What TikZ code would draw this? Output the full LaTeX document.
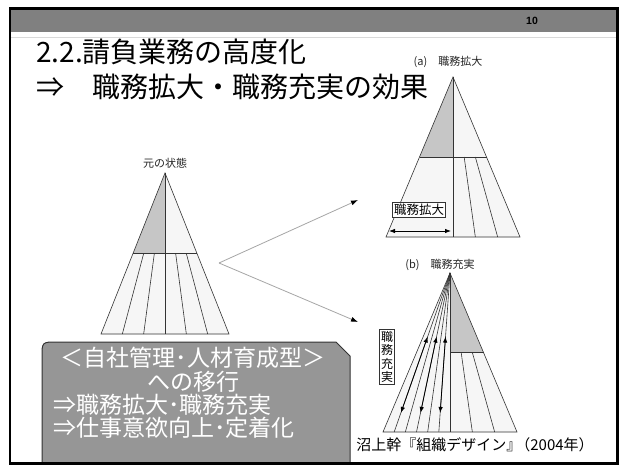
\documentclass[tikz,border=0pt]{standalone}
\usepackage{fontspec}
\setmainfont{Noto Sans CJK JP}
\newfontfamily\numfont{Liberation Sans}
\usetikzlibrary{arrows.meta}

\begin{document}
\begin{tikzpicture}
[
  x=1pt, y=-1pt,
  pyr/.style={draw=black!80, line width=0.6pt},
  paper/.style={fill=gray!7},
  darkpart/.style={fill=gray!45},
  caption/.style={font=\fontsize{11}{13}\selectfont, text=black!85},
  tag/.style={draw=black!80, line width=0.6pt, fill=white, inner sep=1.5pt, font=\fontsize{12.5}{13}\selectfont},
  title/.style={anchor=west, inner sep=0pt, font=\fontsize{28}{30}\selectfont},
  memo/.style={anchor=west, inner sep=0pt, text=white, font=\fontsize{23}{26}\selectfont},
  memobox/.style={fill=black!41, draw=black!80, line width=1pt},
  branch/.style={draw=gray!70, line width=0.8pt, -{Latex[color=black,length=7pt,width=5pt]}},
  dbl/.style={line width=0.8pt, {Latex[length=6pt,width=4.5pt]}-{Latex[length=6pt,width=4.5pt]}}
]
 \useasboundingbox (0,0) rectangle (621,473);
 \fill[white] (0,0) rectangle (621,473);
 \fill[gray] (10,9) rectangle (617,32);
 \draw[gray!30] (11,37) -- (616,37);
 \node[font=\numfont\bfseries\fontsize{10.5}{12}\selectfont] (page) at (532,21) {10};

 \node[title] (head1) at (36,52) {2.2.請負業務の高度化};
 \node[title] (head2) at (36,87) {⇒　職務拡大・職務充実の効果};

 \coordinate (o) at (165,173);
 \fill[paper] (o) -- (101,334) -- (229,334) -- cycle;
 \fill[darkpart] (o) -- (133,253.5) -- (165,253.5) -- cycle;
 \draw[pyr] (o) -- (101,334) -- (229,334) -- cycle;
 \draw[pyr] (133,253.5) -- (197,253.5) (o) -- (165,334);
 \foreach \f in {-2,-1,1,2}
   \draw[pyr] ({165+32*\f/3},253.5) -- ({165+64*\f/3},334);
 \node[caption] (orig) at (165,163) {元の状態};

 \coordinate (a) at (453,77);
 \fill[paper] (a) -- (386,237) -- (520,237) -- cycle;
 \fill[darkpart] (a) -- (419.5,157) -- (453,157) -- cycle;
 \draw[pyr] (a) -- (386,237) -- (520,237) -- cycle;
 \draw[pyr] (419.5,157) -- (486.5,157) (a) -- (453,237);
 \foreach \f in {1,2}
   \draw[pyr] ({453+33.5*\f/3},157) -- ({453+67*\f/3},237);
 \node[caption] (capa) at (448,62) {(a)　職務拡大};
 \node[tag] (wide) at (419,210) {職務拡大};
 \coordinate (wl) at (389,231);
 \coordinate (wr) at (451,231);
 \draw[dbl] (wl) -- (wr);

 \coordinate (b) at (450,273);
 \fill[paper] (b) -- (383,432) -- (517,432) -- cycle;
 \fill[darkpart] (b) -- (450,352.5) -- (483.5,352.5) -- cycle;
 \draw[pyr] (b) -- (383,432) -- (517,432) -- cycle;
 \draw[pyr] (450,352.5) -- (483.5,352.5) (b) -- (450,432);
 \foreach \f in {1,2}
   \draw[pyr] ({450+33.5*\f/3},352.5) -- ({450+67*\f/3},432);
 \foreach \f in {1,...,5}
   \draw[pyr] (b) -- ({450-67*\f/6},432);
 \foreach \f in {1,3,5}
   \draw[dbl] ({450-67*\f/6*0.4},336.6) -- ({450-67*\f/6*0.88},412.9);
 \node[caption] (capb) at (440,265) {(b)　職務充実};
 \node[tag, align=center, font=\fontsize{12}{13.5}\selectfont] (deep) at (387,357) {職\\務\\充\\実};

 \coordinate (fork) at (219,263);
 \coordinate (toa) at (358,200);
 \coordinate (tob) at (358,322);
 \draw[branch] (fork) -- (toa);
 \draw[branch] (fork) -- (tob);

 \path[memobox] (42,463) -- (42,357) .. controls (42,342) .. (57,342) -- (336,342) -- (350,356) -- (350,463) -- cycle;
 \node[memo, anchor=center] (m1) at (193,358) {＜自社管理･人材育成型＞};
 \node[memo, anchor=center] (m2) at (193,382) {への移行};
 \node[memo] (m3) at (53,405) {⇒職務拡大･職務充実};
 \node[memo] (m4) at (53,428) {⇒仕事意欲向上･定着化};

 \node[font=\fontsize{15}{17}\selectfont, fill=white, inner sep=1pt] (src) at (475,445) {沼上幹『組織デザイン』\kern-.4em（2004年）};

 \draw[line width=2.5pt] (10,8.5) rectangle (617.5,463.5);
\end{tikzpicture}
\end{document}
